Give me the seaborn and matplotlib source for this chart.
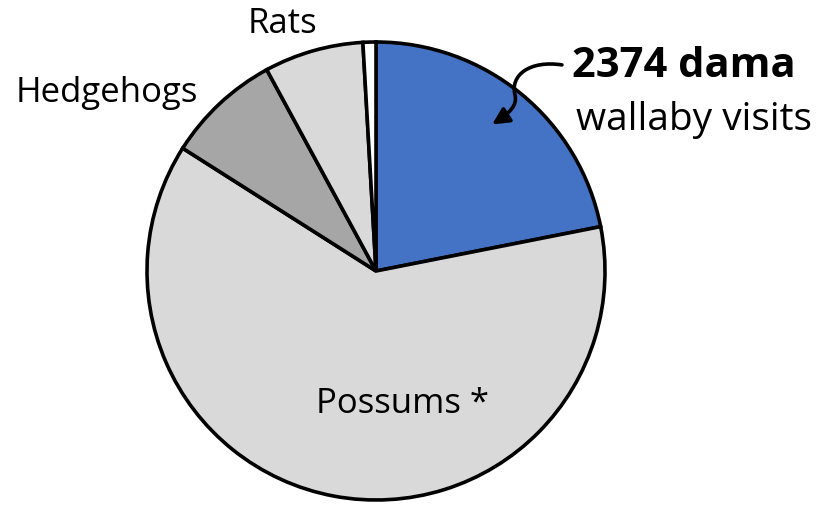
import matplotlib
matplotlib.use("Agg")
import matplotlib.pyplot as plt
import seaborn as sns
from matplotlib.patches import FancyArrowPatch
from matplotlib.path import Path

# Visit counts per animal group (clockwise from the top)
groups = ["Dama wallaby", "Possums", "Hedgehogs", "Rats", "Other"]
visits = [2374, 6734, 876, 759, 99]
colours = ["#4472C4", "#D9D9D9", "#A6A6A6", "#D9D9D9", "#FFFFFF"]


def main():
    sns.set_theme(style="white")
    plt.rcParams["font.family"] = ["Open Sans", "DejaVu Sans"]
    plt.rcParams["text.color"] = "black"

    fig = plt.figure(figsize=(8.23, 5.07), dpi=100)
    ax = fig.add_axes([147 / 823, 7 / 507, 458 / 823, 458 / 507])

    # Pie drawn clockwise from 12 o'clock
    ax.pie(visits, colors=colours, startangle=90, counterclock=False,
           wedgeprops=dict(edgecolor="black", linewidth=2.6))
    ax.set_xlim(-1.0, 1.0)
    ax.set_ylim(-1.0, 1.0)
    ax.set_aspect("equal")
    ax.axis("off")

    # Category labels
    ax.text(-0.410, 1.039, "Rats", fontsize=25, ha="center", va="baseline", clip_on=False)
    ax.text(-1.177, 0.738, "Hedgehogs", fontsize=25, ha="center", va="baseline", clip_on=False)
    ax.text(0.116, -0.620, "Possums *", fontsize=25, ha="center", va="baseline")

    # Call-out for the wallaby slice
    ax.text(0.856, 0.847, f"{visits[0]} dama", fontsize=30, fontweight="bold",
            ha="left", va="baseline", clip_on=False)
    ax.text(0.872, 0.616, "wallaby visits", fontsize=28, ha="left", va="baseline", clip_on=False)

    # S-shaped pointer into the blue slice
    pointer = Path([(0.812, 0.900), (0.672, 0.921), (0.585, 0.856), (0.607, 0.769),
                    (0.618, 0.725), (0.585, 0.690), (0.507, 0.640)],
                   [Path.MOVETO, Path.CURVE4, Path.CURVE4, Path.CURVE4,
                    Path.CURVE4, Path.CURVE4, Path.CURVE4])
    arrow = FancyArrowPatch(path=pointer, arrowstyle="-|>,head_length=10,head_width=5",
                            color="black", linewidth=2.6, clip_on=False)
    ax.add_patch(arrow)

    fig.savefig("out.png", dpi=100)


if __name__ == "__main__":
    main()
